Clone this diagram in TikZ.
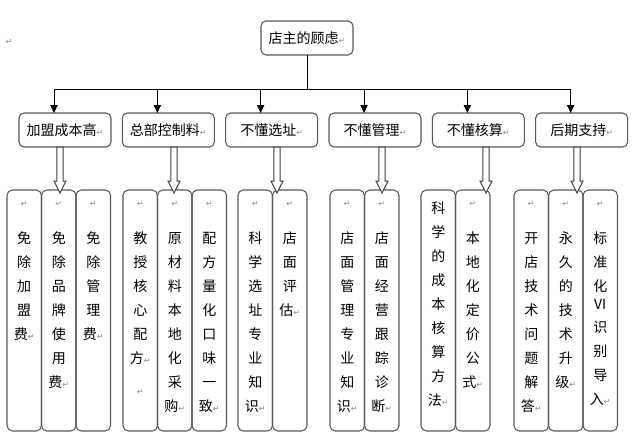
\documentclass[tikz,border=0pt]{standalone}
\usepackage{fontspec}
\setmainfont{Noto Sans CJK SC}
\newfontfamily\retfont{DejaVu Sans}
\definecolor{BoxGray}{HTML}{595959}
\definecolor{ShaftGray}{HTML}{404040}
\definecolor{MarkGray}{HTML}{8C8C8C}
\usetikzlibrary{arrows.meta,positioning,calc}

% paragraph mark as shown in the page
\newcommand\ret{{\retfont\fontsize{6pt}{6pt}\selectfont\color{MarkGray}↵}}
% one tall column of stacked characters
\newcommand\coltext[2][12pt]{%
  \parbox[c][180.75pt][t]{25.875pt}{\centering\fontsize{10.5pt}{18pt}\selectfont\rule{0pt}{#1}#2}}

\tikzset{
  topic/.style={draw=BoxGray, line width=0.8pt, rounded corners=3.75pt,
    minimum width=69pt, minimum height=25.5pt, inner sep=0pt, outer sep=0pt,
    font=\fontsize{10.5pt}{12pt}\selectfont},
  colbox/.style={draw=BoxGray, line width=0.8pt, rounded corners=4pt,
    inner sep=0pt, outer sep=0pt},
  feed/.style={line width=0.75pt, -{Triangle[width=5.5pt,length=6pt]}},
  hollow/.pic={
    \draw[ShaftGray, line width=0.75pt, fill=white]
      (-3.2,0) -- (-3.2,34) -- (-6,34) -- (0,46) -- (6,34) -- (3.2,34) -- (3.2,0) -- cycle;
  }
}

\begin{document}
\begin{tikzpicture}[x=0.75pt,y=-0.75pt]
  \useasboundingbox (0,0) rectangle (634,443);

  \node (mark) at (9,42) {\ret};

  % top and second row
  \node[topic] (root) at (307,38) {店主的顾虑\ret};
  \node[topic] (cost) at (65,130) {加盟成本高\ret};
  \node[topic, right=8.5pt of cost] (supply) {总部控制料\ret};
  \node[topic, right=8.5pt of supply] (site) {不懂选址\ret};
  \node[topic, right=8.5pt of site] (manage) {不懂管理\ret};
  \node[topic, right=8.5pt of manage] (account) {不懂核算\ret};
  \node[topic, right=8.5pt of account] (support) {后期支持\ret};

  \foreach \t in {cost,supply,site,manage,account,support}
    \draw[feed] (root.south) |- ($(\t.north)+(-11,-24)$) -- ($(\t.north)+(-11,0)$);

  % third row
  \node[colbox, anchor=north west] (cost1) at (7,190) {\coltext{\ret\\[10pt]免\\除\\加\\盟\\费\ret}};
  \node[colbox, right=0pt of cost1] (cost2) {\coltext{\ret\\[10pt]免\\除\\品\\牌\\使\\用\\费\ret}};
  \node[colbox, right=0pt of cost2] (cost3) {\coltext{\ret\\[10pt]免\\除\\管\\理\\费\ret}};

  \node[colbox, anchor=north west] (supply1) at (123,190) {\coltext{\ret\\[10pt]教\\授\\核\\心\\配\\方\ret\\[5pt]\ret}};
  \node[colbox, right=0pt of supply1] (supply2) {\coltext{\ret\\[10pt]原\\材\\料\\本\\地\\化\\采\\购\ret}};
  \node[colbox, right=0pt of supply2] (supply3) {\coltext{\ret\\[10pt]配\\方\\量\\化\\口\\味\\一\\致\ret}};

  \node[colbox, anchor=north west] (site1) at (238,190) {\coltext{\ret\\[10pt]科\\学\\选\\址\\专\\业\\知\\识\ret}};
  \node[colbox, right=0pt of site1] (site2) {\coltext{\ret\\[10pt]店\\面\\评\\估\ret}};

  \node[colbox, anchor=north west] (manage1) at (330,190) {\coltext{\ret\\[10pt]店\\面\\管\\理\\专\\业\\知\\识\ret}};
  \node[colbox, right=0pt of manage1] (manage2) {\coltext{\ret\\[10pt]店\\面\\经\\营\\跟\\踪\\诊\\断\ret}};

  \node[colbox, anchor=north west] (account1) at (421,190) {\coltext[17.5pt]{科\\学\\的\\成\\本\\核\\算\\方\\法\ret}};
  \node[colbox, right=0pt of account1] (account2) {\coltext{\ret\\[10pt]本\\地\\化\\定\\价\\公\\式\ret}};

  \node[colbox, anchor=north west] (support1) at (514,190) {\coltext{\ret\\[10pt]开\\店\\技\\术\\问\\题\\解\\答\ret}};
  \node[colbox, right=0pt of support1] (support2) {\coltext{\ret\\[10pt]永\\久\\的\\技\\术\\升\\级\ret}};
  \node[colbox, right=0pt of support2] (support3) {\coltext{\ret\\[10pt]标\\准\\化\\[-4.5pt]VI\\[-1pt]识\\别\\导\\入\ret}};

  % block arrows down to the columns
  \pic at ($(cost.south)+(-5,0)$) {hollow};
  \pic at ($(supply.south)+(5.7,0)$) {hollow};
  \pic at ($(site.south)+(5.3,0)$) {hollow};
  \pic at ($(manage.south)+(7,0)$) {hollow};
  \pic at ($(account.south)+(7.7,0)$) {hollow};
  \pic at ($(support.south)+(-4.7,0)$) {hollow};
\end{tikzpicture}
\end{document}
